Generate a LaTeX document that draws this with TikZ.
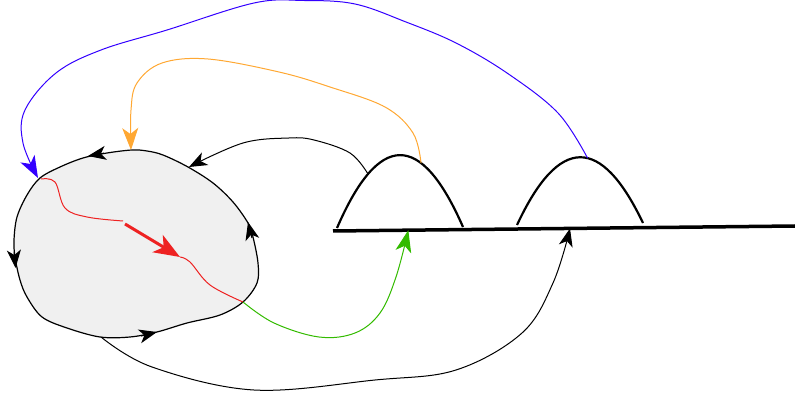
\documentclass[tikz,border=0pt]{standalone}
\usetikzlibrary{arrows.meta}
\definecolor{cblue}{HTML}{3300FF}
\definecolor{corange}{HTML}{FFA833}
\definecolor{cgreen}{HTML}{33BB00}
\definecolor{cred}{HTML}{EE2222}
\definecolor{cgray}{HTML}{F0F0F0}
\tikzset{
  btip/.style={-{Stealth[length=18pt,width=14pt,inset=5pt]}},
  ctip/.style={-{Stealth[length=22pt,width=16pt,inset=6pt]}},
  conn/.style={line width=1pt},
  hill/.style={line width=2.2pt},
  baseline/.style={line width=3.5pt},
  blobline/.style={line width=1.2pt, fill=cgray},
  redthin/.style={cred, line width=1pt},
}
\begin{document}
\begin{tikzpicture}[x=1pt,y=-1pt]
\useasboundingbox (0,0) rectangle (795,398);
% blob
\draw[blobline]
  plot[smooth cycle, tension=0.55] coordinates {(132,150) (107,153) (83,158) (60,167) (40,178) (27,195) (17,217) (14,240) (15,257) (20,280) (27,297) (42,317) (67,328) (100,337) (130,337) (157,332) (187,323) (220,315) (243,302) (257,283) (258,263) (253,237) (248,223) (233,202) (213,183) (188,167) (163,155) (147,151)};
% arrowheads on the blob outline
\draw[btip, line width=1.2pt] (104,153.2) -- (88,156);
\draw[btip, line width=1.2pt] (14.1,252) -- (15.5,268);
\draw[btip, line width=1.2pt] (141,336) -- (157,332);
\draw[btip, line width=1.2pt] (252,238) -- (248,222);
% blob anchors
\coordinate (bBlue) at (38,178);
\coordinate (bOrange) at (131,150);
\coordinate (bTop) at (189,167);
\coordinate (bGreen) at (243,302);
\coordinate (bBottom) at (101,337);
\coordinate (rStart) at (41,179);
\coordinate (rA) at (123,221);
\coordinate (rB) at (125,224);
\coordinate (rC) at (180,257);
% base line and hills
\draw[baseline] (333,231) -- coordinate[pos=0.163] (baseG) coordinate[pos=0.513] (baseK) (795,226);
\draw[hill] (337,228) .. controls (379,131) and (421,131) .. coordinate[pos=0.667] (h1r) coordinate[pos=0.246] (h1l) (463,227);
\draw[hill] (517,225) .. controls (559,135) and (601,135) .. coordinate[pos=0.56] (h2) (643,223);
% red path
\draw[redthin] plot[smooth, tension=0.6] coordinates {(rStart) (55,182) (65,208) (87,217) (rA)};
\draw[cred, line width=3pt, -{Stealth[length=26pt,width=20pt,inset=7pt]}] (rB) -- (rC);
\draw[redthin] plot[smooth, tension=0.6] coordinates {(rC) (190,262) (210,285) (bGreen)};
% connectors
\draw[conn, btip] plot[smooth, tension=0.6] coordinates {(h1l) (350,153) (314,140) (289,138) (243,143) (bTop)};
\draw[conn, corange, ctip] plot[smooth, tension=0.6] coordinates {(h1r) (413,133) (385,107) (330,87) (279,72) (208,59) (162,63) (137,83) (131,110) (bOrange)};
\draw[conn, cblue, ctip] plot[smooth, tension=0.6] coordinates {(h2) (558,113) (507,73) (456,43) (406,22) (355,4) (304,0.5) (254,3) (167,30) (101,50) (56,73) (25,110) (23,143) (bBlue)};
\draw[conn, cgreen, ctip] plot[smooth, tension=0.6] coordinates {(bGreen) (274,323) (319,337) (355,333) (380,313) (396,277) (baseG)};
\draw[conn, btip] plot[smooth, tension=0.6] coordinates {(bBottom) (152,367) (254,390) (375,380) (456,370) (522,333) (553,283) (baseK)};
\end{tikzpicture}
\end{document}
